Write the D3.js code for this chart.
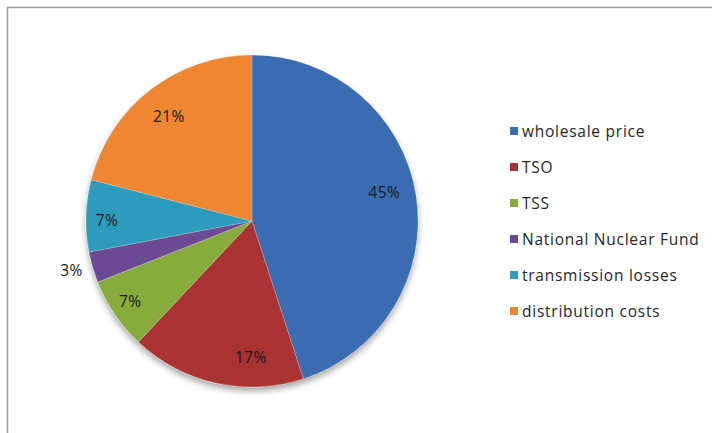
<!DOCTYPE html>
<html><head><meta charset="utf-8">
<script src="https://cdn.jsdelivr.net/npm/d3@7"></script>
<style>body{margin:0;background:#fff;} svg{display:block;}</style>
</head><body>
<svg id="c" width="712" height="433"></svg>
<script>
const categories = ["wholesale price","TSO","TSS","National Nuclear Fund","transmission losses","distribution costs"];
const values = [45,17,7,3,7,21];
const colors = ["#3a6cb1","#a93331","#87ab3d","#6c4a93","#2f9bbd","#ee8630"];

const svg = d3.select("#c");
const W=712,H=433;
const cx=252, cy=221, R=166;
const defs = svg.append("defs");
const f = defs.append("filter").attr("id","sh").attr("x","-20%").attr("y","-20%").attr("width","140%").attr("height","140%");
f.append("feDropShadow").attr("dx",0).attr("dy",4).attr("stdDeviation",3).attr("flood-color","#000").attr("flood-opacity",0.35);

// frame
svg.append("line").attr("x1",7).attr("y1",7.5).attr("x2",W).attr("y2",7.5).attr("stroke","#9a9a9a").attr("stroke-width",1.5);
svg.append("line").attr("x1",7.5).attr("y1",7).attr("x2",7.5).attr("y2",H).attr("stroke","#9a9a9a").attr("stroke-width",1.5);

const pie = d3.pie().sort(null).value(d=>d.v);
const data = pie(categories.map((c,i)=>({c, v:values[i], col:colors[i]})));
const arc = d3.arc().innerRadius(0).outerRadius(R);
const g = svg.append("g").attr("transform",`translate(${cx},${cy})`);
g.append("g").attr("filter","url(#sh)").selectAll("path").data(data).join("path")
  .attr("d",arc).attr("fill",d=>d.data.col).attr("stroke","#ffffff").attr("stroke-opacity",0.35).attr("stroke-width",0.6);

// label placement tweaks (Excel best-fit style)
const nudge = [[0,-8],[28,5],[-11,5],[2,-4],[-11,3],[-1,1]];
const inArc = d3.arc().innerRadius(134).outerRadius(134);
const outArc = d3.arc().innerRadius(R+24).outerRadius(R+24);
g.selectAll("text.lbl").data(data).join("text").attr("class","lbl")
  .attr("transform",(d,i)=>{const p=(d.data.v<5?outArc:inArc).centroid(d);return `translate(${p[0]+nudge[i][0]},${p[1]+nudge[i][1]})`;})
  .attr("text-anchor","middle").attr("dominant-baseline","central")
  .attr("font-family","'Open Sans', sans-serif").attr("font-size",15.5).attr("fill","#1a1a1a")
  .attr("letter-spacing",0.4)
  .text(d=>d.data.v+"%");

// legend
const lg = svg.append("g").attr("transform","translate(510,131)");
const rows = lg.selectAll("g").data(categories).join("g").attr("transform",(d,i)=>`translate(0,${i*36})`);
rows.append("rect").attr("x",0).attr("y",-4).attr("width",8).attr("height",8).attr("fill",(d,i)=>colors[i]);
rows.append("text").attr("x",12).attr("y",0).attr("dominant-baseline","central")
  .attr("font-family","'Open Sans', sans-serif").attr("font-size",15.5).attr("letter-spacing",0.75).attr("fill","#262626").text(d=>d);
</script>
</body></html>
